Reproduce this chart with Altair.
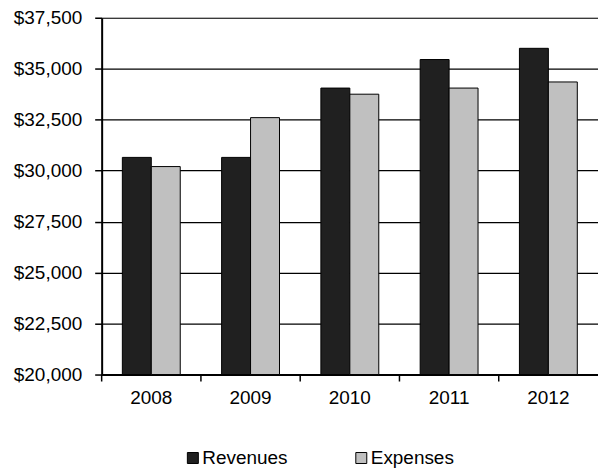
import altair as alt
import pandas as pd

years = ["2008", "2009", "2010", "2011", "2012"]
revenues = [30650, 30650, 34050, 35450, 36000]
expenses = [30200, 32600, 33750, 34050, 34350]
series = ["Revenues", "Expenses"]
colors = ["#202020", "#c0c0c0"]
y_ticks = [20000, 22500, 25000, 27500, 30000, 32500, 35000, 37500]

rows = []
for i, yr in enumerate(years):
    rows.append({"year": yr, "series": "Revenues", "value": revenues[i]})
    rows.append({"year": yr, "series": "Expenses", "value": expenses[i]})
df = pd.DataFrame(rows)
ydf = pd.DataFrame({"year": years})

W, H = 498, 358
FONT = "Liberation Sans"

x_enc = alt.X("year:N", sort=years, title=None,
              scale=alt.Scale(paddingInner=0, paddingOuter=0),
              axis=alt.Axis(labelAngle=0, ticks=False, tickSize=0, labelPadding=14,
                            labelFontSize=19, labelFont=FONT, labelColor="black",
                            domainColor="black", domainWidth=2))

bars = alt.Chart(df).mark_bar(stroke="black", strokeWidth=1).encode(
    x=x_enc,
    xOffset=alt.XOffset("series:N", sort=series,
                        scale=alt.Scale(paddingInner=0, paddingOuter=0.715)),
    y=alt.Y("value:Q", title=None,
            scale=alt.Scale(domain=[20000, 37500], nice=False, zero=False),
            axis=alt.Axis(values=y_ticks, format="$,.0f", grid=True, gridColor="black",
                          gridWidth=1.2, gridOpacity=1, domainColor="black", domainWidth=2,
                          tickColor="black", tickSize=7, tickWidth=1.5,
                          labelFontSize=19, labelFont=FONT, labelColor="black",
                          labelPadding=13)),
    y2=alt.datum(20000),
    color=alt.Color("series:N", sort=series,
                    scale=alt.Scale(domain=series, range=colors),
                    legend=alt.Legend(title=None, orient="none", direction="horizontal",
                                      legendX=82, legendY=432, symbolType="square",
                                      symbolSize=121, symbolStrokeColor="black",
                                      symbolStrokeWidth=1, labelFontSize=19,
                                      labelFont=FONT, labelColor="black", labelOffset=0,
                                      columnPadding=64, padding=0)),
)

ticks = alt.Chart(ydf).mark_rule(color="black", strokeWidth=1.5).encode(
    x=alt.X("year:N", sort=years, bandPosition=0),
    y=alt.value(H),
    y2=alt.value(H + 7),
)

chart = alt.layer(bars, ticks).properties(
    width=W, height=H,
    autosize=alt.AutoSizeParams(type="none"),
    padding={"left": 102, "top": 17, "right": 0, "bottom": 97},
).configure_view(stroke=None).configure(background="white")

chart.save("out.html", embed_options={"renderer": "svg", "actions": False})
